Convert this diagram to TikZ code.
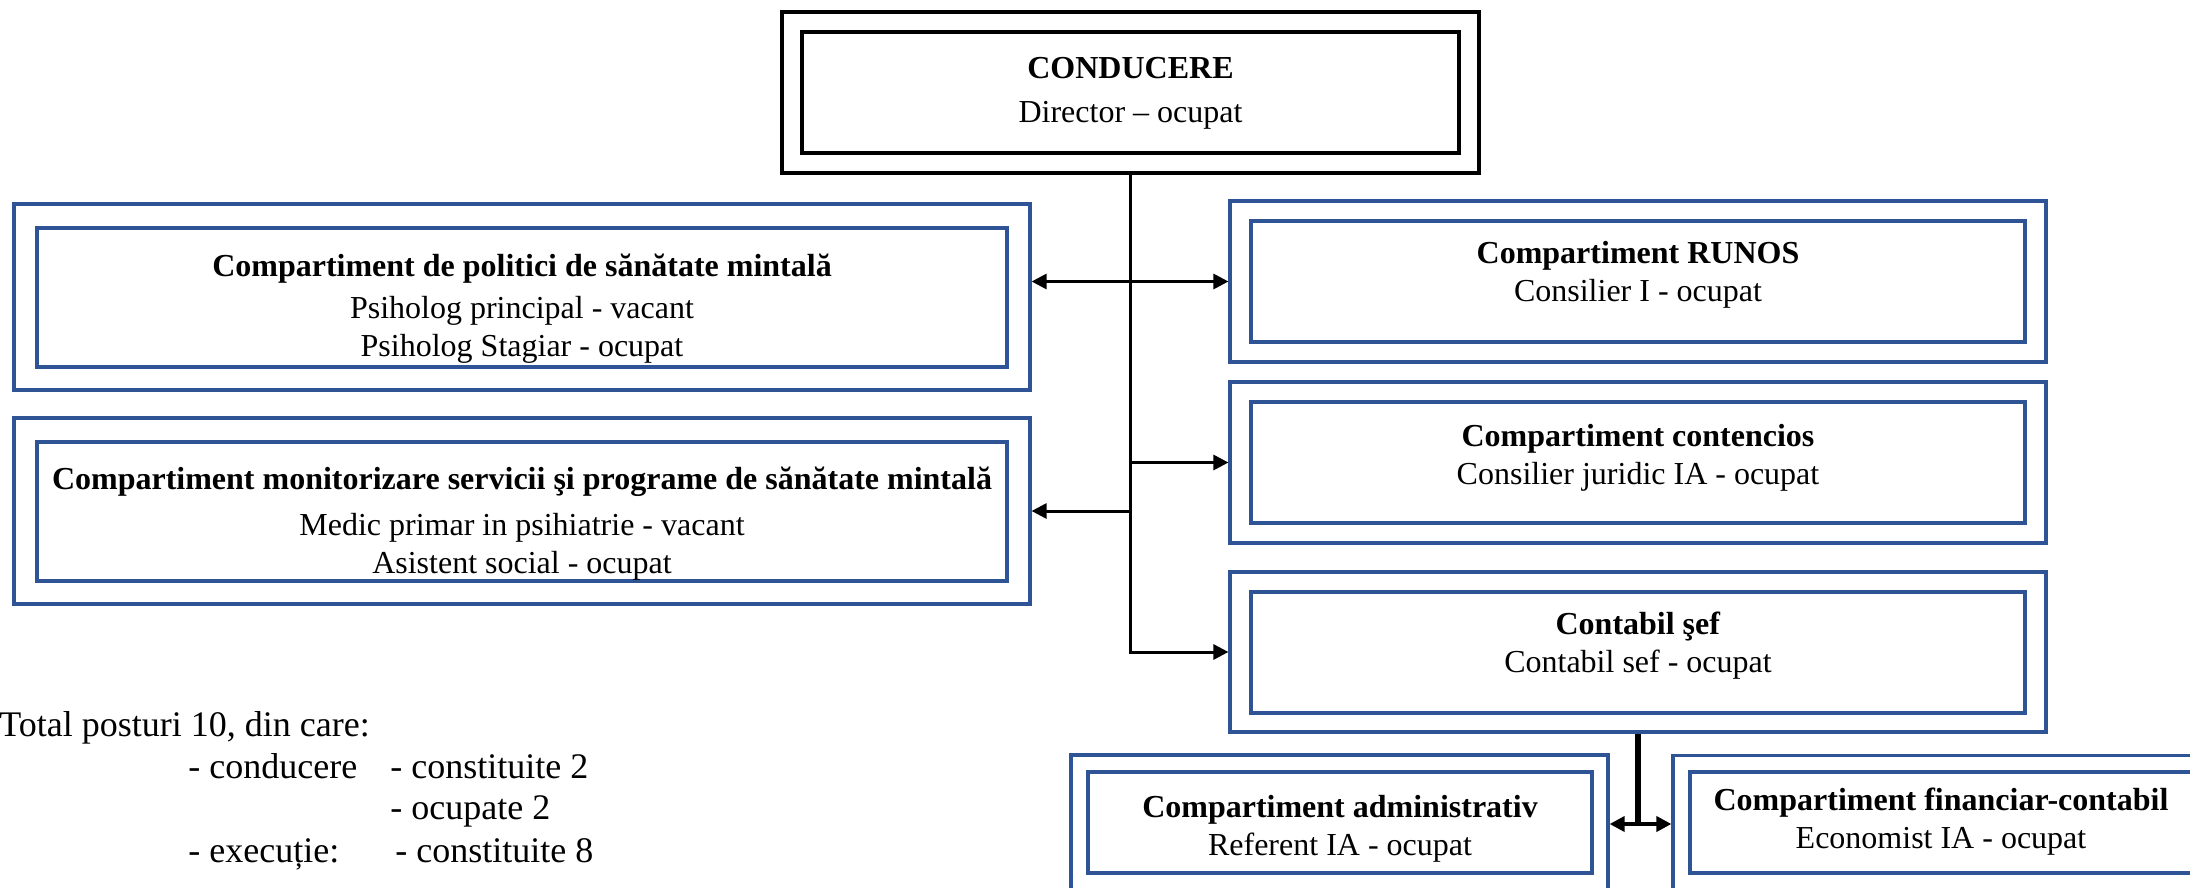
\documentclass[tikz,border=0pt]{standalone}
\usepackage{fontspec}
\setmainfont{Liberation Serif}
\usetikzlibrary{arrows.meta}
\definecolor{boxblue}{RGB}{47,84,150}

\begin{document}
\begin{tikzpicture}[x=0.5pt,y=0.5pt,yscale=-1,xscale=1,
  headbox/.style={draw=black,line width=1.8pt,rectangle,inner sep=0pt},
  outerbox/.style={draw=boxblue,line width=1.6pt,rectangle,inner sep=0pt},
  innerbox/.style={draw=boxblue,line width=1.6pt,rectangle,inner sep=0pt},
  boxtext/.style={align=center,inner sep=0pt,font=\fontsize{16pt}{19pt}\selectfont},
  sumtext/.style={anchor=base west,inner sep=0pt,font=\fontsize{18pt}{21pt}\selectfont},
  link/.style={line width=1.5pt,-{Triangle[length=7.5pt,width=7.5pt]}},
]
\clip (0,0) rectangle (2190,888);

%Shape: Rectangle [conducere]
\node[headbox,minimum width=348.5pt,minimum height=80.5pt] (conducere) at (1130.5,92.5) {};
\node[headbox,minimum width=328.5pt,minimum height=60.5pt] (conducereIn) at (1130.5,92.5) {};
\node[boxtext] (conducereT) at (1130.5,93) {\textbf{CONDUCERE}\\[3pt]Director – ocupat};

%Shape: Rectangle [politici]
\node[outerbox,minimum width=508pt,minimum height=93pt] (politici) at (522,297) {};
\node[innerbox,minimum width=485pt,minimum height=69.5pt] (politiciIn) at (522,297.5) {};
\node[boxtext] (politiciT) at (522,309) {\textbf{Compartiment de politici de sănătate mintală}\\[2pt]Psiholog principal - vacant\\Psiholog Stagiar - ocupat};

%Shape: Rectangle [monitorizare]
\node[outerbox,minimum width=508pt,minimum height=93pt] (monit) at (522,511) {};
\node[innerbox,minimum width=485pt,minimum height=69.5pt] (monitIn) at (522,511.5) {};
\node[boxtext] (monitT) at (522,524) {\textbf{Compartiment monitorizare servicii şi programe de sănătate mintală}\\[4pt]Medic primar in psihiatrie - vacant\\Asistent social - ocupat};

%Shape: Rectangle [runos]
\node[outerbox,minimum width=408pt,minimum height=80.5pt] (runos) at (1638,281.5) {};
\node[innerbox,minimum width=387pt,minimum height=60.5pt] (runosIn) at (1638,281.5) {};
\node[boxtext] (runosT) at (1638,275) {\textbf{Compartiment RUNOS}\\Consilier I - ocupat};

%Shape: Rectangle [contencios]
\node[outerbox,minimum width=408pt,minimum height=80.5pt] (contencios) at (1638,462.5) {};
\node[innerbox,minimum width=387pt,minimum height=60.5pt] (contenciosIn) at (1638,462.5) {};
\node[boxtext] (contenciosT) at (1638,457.5) {\textbf{Compartiment contencios}\\Consilier juridic IA - ocupat};

%Shape: Rectangle [contabil]
\node[outerbox,minimum width=408pt,minimum height=80pt] (contabil) at (1638,652) {};
\node[innerbox,minimum width=387pt,minimum height=60.5pt] (contabilIn) at (1638,652.5) {};
\node[boxtext] (contabilT) at (1638,646) {\textbf{Contabil şef}\\Contabil sef - ocupat};

%Shape: Rectangle [administrativ]
\node[outerbox,minimum width=268.5pt,minimum height=69pt] (admin) at (1339.5,824) {};
\node[innerbox,minimum width=252pt,minimum height=50.5pt] (adminIn) at (1340,822.5) {};
\node[boxtext] (adminT) at (1340,829) {\textbf{Compartiment administrativ}\\Referent IA - ocupat};

%Shape: Rectangle [financiar-contabil]
\node[outerbox,minimum width=268pt,minimum height=68.5pt] (fin) at (1941,824) {};
\node[innerbox,minimum width=251pt,minimum height=50.5pt] (finIn) at (1941,822.5) {};
\node[boxtext] (finT) at (1941,822) {\textbf{Compartiment financiar-contabil}\\Economist IA - ocupat};

%Straight Lines [connectors]
\coordinate (j1) at (conducere.south |- runos.west);
\draw[link] (j1) -- (runos.west);
\draw[link] (j1) -- (j1 -| politici.east);
\draw[link] (conducere.south) |- (contabil.west);
\draw[link] (conducere.south |- contencios.west) -- (contencios.west);
\draw[link] (conducere.south |- monit.east) -- (monit.east);
\draw[line width=2.8pt] (contabil.south) -- (contabil.south |- admin.east);
\draw[line width=1.8pt,{Triangle[length=7.5pt,width=7.5pt]}-{Triangle[length=7.5pt,width=7.5pt]}] (admin.east) -- (fin.west);

%Text [total posturi]
\node[sumtext] (total) at (-1,736) {Total posturi 10, din care:};
\node[sumtext] (cond) at (188,778) {- conducere};
\node[sumtext] (condC) at (390,778) {- constituite 2};
\node[sumtext] (condO) at (390,819) {- ocupate 2};
\node[sumtext] (exec) at (188,862) {- execuție:};
\node[sumtext] (execC) at (395,862) {- constituite 8};

\end{tikzpicture}
\end{document}
